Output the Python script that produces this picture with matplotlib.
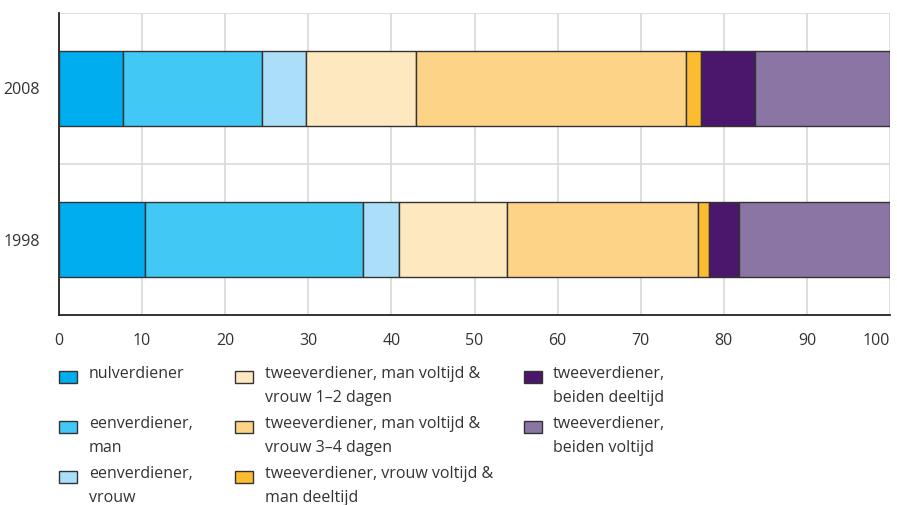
import matplotlib
matplotlib.use("Agg")
import matplotlib.pyplot as plt
from matplotlib.patches import Rectangle

years = ["1998", "2008"]
categories = [
    "nulverdiener",
    "eenverdiener,\nman",
    "eenverdiener,\nvrouw",
    "tweeverdiener, man voltijd &\nvrouw 1–2 dagen",
    "tweeverdiener, man voltijd &\nvrouw 3–4 dagen",
    "tweeverdiener, vrouw voltijd &\nman deeltijd",
    "tweeverdiener,\nbeiden deeltijd",
    "tweeverdiener,\nbeiden voltijd",
]
values_1998 = [10.3, 26.3, 4.3, 13.0, 23.0, 1.3, 3.6, 18.2]
values_2008 = [7.7, 16.7, 5.3, 13.3, 32.5, 1.8, 6.4, 16.3]
colors = ["#00AEEF", "#42C8F4", "#ABDFF9", "#FEE8BF", "#FDD388", "#FDBB30", "#4A176C", "#8A75A4"]
xticks = [0, 10, 20, 30, 40, 50, 60, 70, 80, 90, 100]

plt.rcParams['font.family'] = ['Open Sans', 'DejaVu Sans']
W, H = 897, 505
fig = plt.figure(figsize=(W / 100, H / 100), dpi=100)
ax = fig.add_axes([59 / W, 1 - 315 / H, (890 - 59) / W, (315 - 13) / H])

series = [values_1998, values_2008]
for yi, vals in enumerate(series):
    left = 0.0
    for v, c in zip(vals, colors):
        ax.barh(yi, v, left=left, height=0.503, color=c, edgecolor="#333333",
                linewidth=1.0, zorder=3)
        left += v

ax.set_xlim(0, 100)
ax.set_ylim(-0.5, 1.5)
ax.set_xticks(xticks)
ax.set_xticklabels([str(t) for t in xticks])
ax.set_yticks([0, 1])
ax.set_yticklabels(years)
ax.set_yticks([0.5, 1.5], minor=True)
ax.grid(axis="x", color="#d9d9d9", linewidth=1.2, zorder=0)
ax.grid(axis="y", which="minor", color="#d9d9d9", linewidth=1.2, zorder=0)
ax.tick_params(axis="both", which="both", length=0, colors="#333333", labelsize=11.5)
ax.tick_params(axis="x", pad=13)
ax.tick_params(axis="y", pad=14)
ax.get_xticklabels()[-1].set_horizontalalignment("right")
for s in ["top", "right"]:
    ax.spines[s].set_visible(False)
for s in ["left", "bottom"]:
    ax.spines[s].set_color("#222222")
    ax.spines[s].set_linewidth(1.3)

# legend
col_box_x = [58.5, 234.5, 523.5]
col_text_x = [89, 265, 553]
row_y = [376.5, 426.5, 476.5]
positions = [(0, 0), (0, 1), (0, 2), (1, 0), (1, 1), (1, 2), (2, 0), (2, 1)]
for lab, c, (ci, ri) in zip(categories, colors, positions):
    bx, by = col_box_x[ci], row_y[ri]
    fig.patches.append(Rectangle((bx / W, 1 - (by + 6) / H), 18.5 / W, 12 / H,
                                 transform=fig.transFigure, facecolor=c,
                                 edgecolor="#333333", linewidth=1.0))
    for li, line in enumerate(lab.split("\n")):
        fig.text(col_text_x[ci] / W, 1 - (by - 2 + li * 23) / H, line,
                 ha="left", va="center", fontsize=11.5, color="#333333")

fig.savefig("out.png", dpi=100)
